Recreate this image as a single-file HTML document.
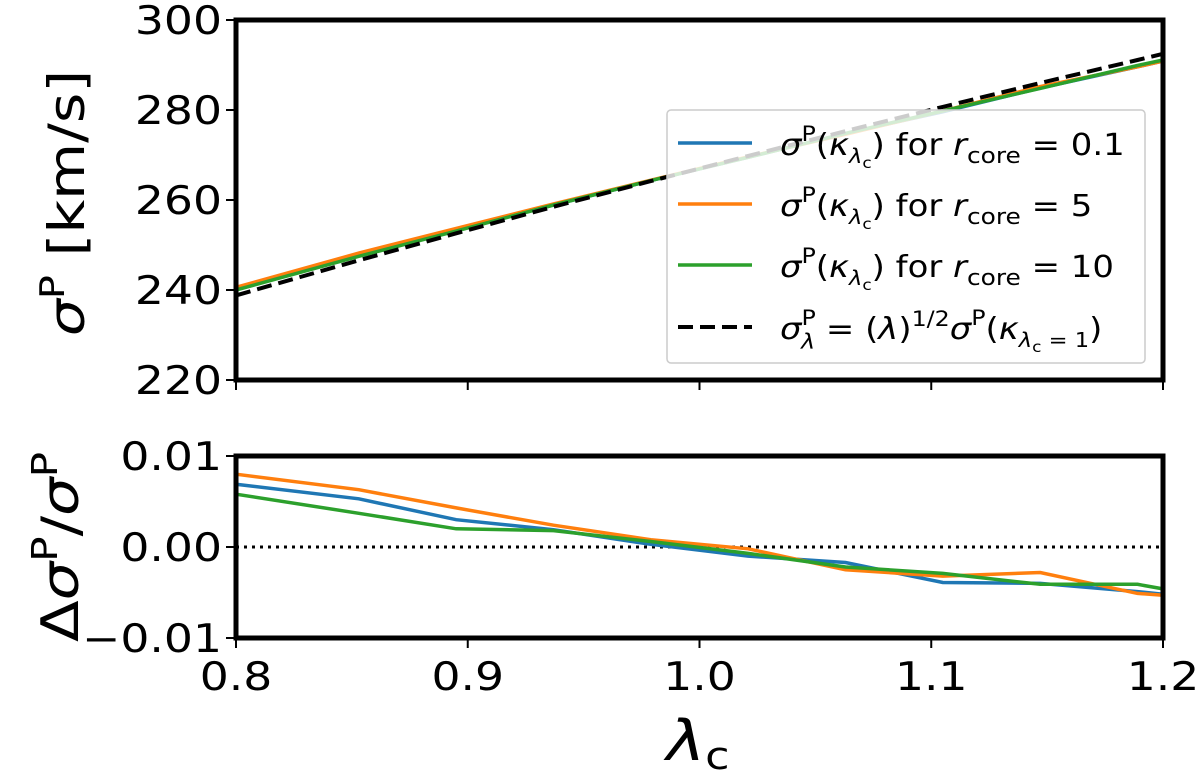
<!DOCTYPE html>
<html><head><meta charset="utf-8"><style>
html,body{margin:0;padding:0;background:#fff}
svg{display:block}
text{font-family:"DejaVu Sans","Liberation Sans",sans-serif;fill:#000}
</style></head><body>
<svg id="chart" width="1200" height="770" viewBox="0 0 1200 770"></svg>
<script>
const lambdas=[0.8,0.853,0.895,0.937,0.979,1.021,1.063,1.105,1.147,1.189,1.2];
const topBlue=[240.3,247.9,253.4,258.9,264.3,269.5,274.8,279.6,284.9,289.6,290.9];
const topOrange=[240.6,248.2,253.7,259.1,264.4,269.6,274.6,279.8,285.2,289.6,290.9];
const topGreen=[240.0,247.5,253.1,258.9,264.3,269.5,274.8,279.8,284.8,289.9,291.1];
const topDashed=[238.8,246.6,252.6,258.5,264.2,269.8,275.3,280.7,286.0,291.1,292.5];
const resBlue=[0.0069,0.0053,0.0030,0.0019,0.0003,-0.0010,-0.0017,-0.0039,-0.0040,-0.0049,-0.0052];
const resOrange=[0.0080,0.0063,0.0043,0.0024,0.0008,-0.0002,-0.0025,-0.0032,-0.0028,-0.0051,-0.0053];
const resGreen=[0.0058,0.0037,0.0020,0.0018,0.0006,-0.0007,-0.0022,-0.0029,-0.0041,-0.0041,-0.0046];
const xTicks=[0.8,0.9,1.0,1.1,1.2];
const xTickLabels=["0.8","0.9","1.0","1.1","1.2"];
const topYTicks=[220,240,260,280,300];
const resYTicks=[-0.01,0,0.01];
const resYTickLabels=["\u22120.01","0.00","0.01"];

const NS="http://www.w3.org/2000/svg";
const svg=document.getElementById('chart');
const X0=236,X1=1163;
const SX=1.17;
const xs=v=>X0+(v-0.8)/0.4*(X1-X0);
const yTop=v=>20+(300-v)/80*360;
const yRes=v=>547-v/0.01*91;
function el(tag,attrs,parent){const e=document.createElementNS(NS,tag);for(const k in attrs)e.setAttribute(k,attrs[k]);(parent||svg).appendChild(e);return e;}
function txt(x,y,size,anchor,html,rot,parent,sx){
  const t=el('text',{x:0,y:0,'font-size':size,'text-anchor':anchor,transform:'translate('+x+','+y+')'+(rot?' rotate(-90)':'')+' scale('+(sx||SX)+',1)'},parent);
  t.innerHTML=html;return t;
}
function line(vals,xf,yf,color,w,dash,name){
  const pts=vals.map((v,i)=>xf(lambdas[i]).toFixed(1)+','+yf(v).toFixed(1)).join(' ');
  const p=el('polyline',{points:pts,fill:'none',stroke:color,'stroke-width':w});
  if(dash)p.setAttribute('stroke-dasharray',dash);
  
  
  return p;
}
const C={b:'#1f77b4',o:'#ff7f0e',g:'#2ca02c'};

line(topBlue,xs,yTop,C.b,3.5,null,'top-series-rcore-0.1');
line(topOrange,xs,yTop,C.o,3.5,null,'top-series-rcore-5');
line(topGreen,xs,yTop,C.g,3.5,null,'top-series-rcore-10');
line(topDashed,xs,yTop,'#000',4,'15,7','top-series-sqrt-lambda');

const lg=el('g',{});


el('rect',{x:667,y:110,width:478,height:253,rx:4,fill:'rgba(255,255,255,0.8)',stroke:'#ccc','stroke-width':1.5},lg);
const legItems=[[C.b,'0.1',143],[C.o,'5',204],[C.g,'10',265]];
legItems.forEach(([c,r,y])=>{
  const g=el('g',{},lg);
  
  
  el('line',{x1:678,x2:752,y1:y,y2:y,stroke:c,'stroke-width':3.5},g);
  txt(780,y+12,30,'start','<tspan font-style="italic">σ</tspan><tspan font-size="21" dy="-14">P</tspan><tspan dy="14">(</tspan><tspan font-style="italic">κ</tspan><tspan font-size="20" font-style="italic" dy="8">λ</tspan><tspan font-size="15" dy="5">c</tspan><tspan dy="-13">) for </tspan><tspan font-style="italic">r</tspan><tspan font-size="22" dy="8">core</tspan><tspan dy="-8"> = '+r+'</tspan>',false,g,1.13);
});
const gd=el('g',{},lg);


el('line',{x1:678,x2:752,y1:327,y2:327,stroke:'#000','stroke-width':4,'stroke-dasharray':'15,7'},gd);
txt(780,339,30,'start','<tspan font-style="italic">σ</tspan><tspan font-size="21" dy="-14">P</tspan><tspan font-size="21" font-style="italic" dx="-13" dy="24">λ</tspan><tspan dy="-10"> = (</tspan><tspan font-style="italic">λ</tspan><tspan>)</tspan><tspan font-size="21" dy="-13">1/2</tspan><tspan font-style="italic" dy="13">σ</tspan><tspan font-size="21" dy="-14">P</tspan><tspan dy="14">(</tspan><tspan font-style="italic">κ</tspan><tspan font-size="20" font-style="italic" dy="8">λ</tspan><tspan font-size="15" dy="5">c</tspan><tspan font-size="20" dy="-5"> = 1</tspan><tspan dy="-8">)</tspan>',false,gd,1.13);

const tf=el('rect',{x:X0,y:20,width:X1-X0,height:360,fill:'none',stroke:'#000','stroke-width':5});


topYTicks.forEach(v=>{
  el('line',{x1:X0-10,x2:X0,y1:yTop(v),y2:yTop(v),stroke:'#000','stroke-width':2});
  const t=txt(X0-14,yTop(v)+14,39,'end',String(v));
  
  
});
xTicks.forEach(v=>el('line',{x1:xs(v),x2:xs(v),y1:380,y2:390,stroke:'#000','stroke-width':2}));
const yl=txt(84,203,50,'middle','<tspan font-style="italic">σ</tspan><tspan font-size="34" dy="-20">P</tspan><tspan dy="20"> [km/s]</tspan>',true);



el('line',{x1:X0,x2:X1,y1:yRes(0),y2:yRes(0),stroke:'#000','stroke-width':3,'stroke-dasharray':'3,5'});
line(resBlue,xs,yRes,C.b,3.5,null,'residual-rcore-0.1');
line(resOrange,xs,yRes,C.o,3.5,null,'residual-rcore-5');
line(resGreen,xs,yRes,C.g,3.5,null,'residual-rcore-10');
const bf=el('rect',{x:X0,y:456,width:X1-X0,height:182,fill:'none',stroke:'#000','stroke-width':5});


resYTicks.forEach((v,i)=>{
  el('line',{x1:X0-10,x2:X0,y1:yRes(v),y2:yRes(v),stroke:'#000','stroke-width':2});
  const t=txt(X0-14,yRes(v)+14,39,'end',resYTickLabels[i]);
  
  
});
xTicks.forEach((v,i)=>{
  el('line',{x1:xs(v),x2:xs(v),y1:638,y2:648,stroke:'#000','stroke-width':2});
  const t=txt(xs(v),690,39,'middle',xTickLabels[i]);
  
  
});
const rl=txt(78,547,52,'middle','Δ<tspan font-style="italic">σ</tspan><tspan font-size="36" dy="-21">P</tspan><tspan dy="21">/</tspan><tspan font-style="italic">σ</tspan><tspan font-size="36" dy="-21">P</tspan>',true);


const xl=txt(698,760,56,'middle','<tspan font-style="italic">λ</tspan><tspan font-size="38" dy="9">c</tspan>');


</script>
</body></html>
